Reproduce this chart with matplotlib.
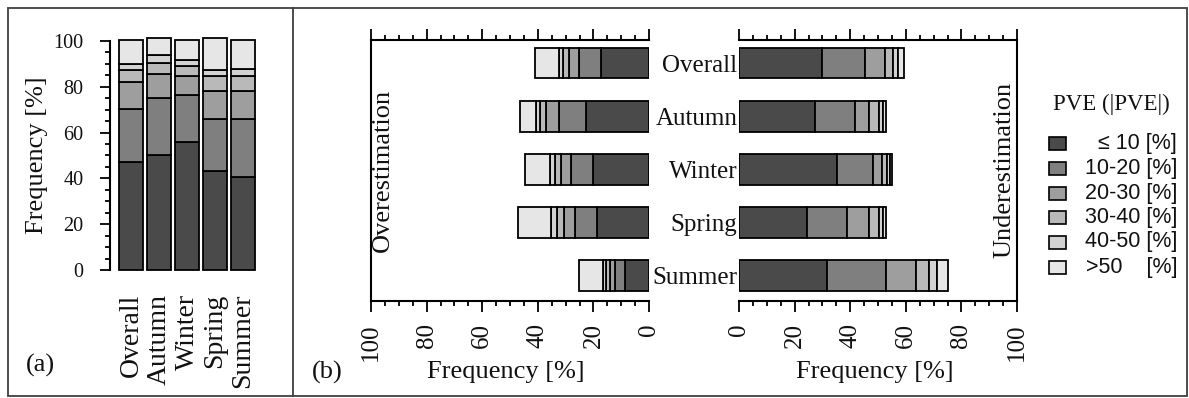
import matplotlib
matplotlib.use("Agg")
import matplotlib.pyplot as plt
from matplotlib.patches import Rectangle
from matplotlib.lines import Line2D
from matplotlib.ticker import MultipleLocator
import numpy as np

# ---------------- data ----------------
categories = ["Overall", "Autumn", "Winter", "Spring", "Summer"]
classes = ["\u2264 10", "10-20", "20-30", "30-40", "40-50", ">50"]

# panel (a): total frequency [%] per PVE class
total_le10 = [47.0, 50.4, 55.7, 43.2, 40.7]
total_10_20 = [23.5, 24.5, 20.8, 22.9, 25.4]
total_20_30 = [11.6, 10.9, 8.2, 12.1, 12.1]
total_30_40 = [5.1, 4.8, 4.4, 6.4, 6.4]
total_40_50 = [2.9, 3.2, 2.5, 2.6, 3.3]
total_gt50 = [10.2, 7.7, 8.7, 14.3, 12.4]

# panel (b): overestimation frequency [%]
over_le10 = [17.3, 22.5, 20.1, 18.7, 8.7]
over_10_20 = [7.8, 9.9, 8.1, 8.0, 3.6]
over_20_30 = [3.6, 4.7, 3.3, 4.0, 1.8]
over_30_40 = [2.4, 2.2, 2.2, 2.3, 1.5]
over_40_50 = [1.3, 1.5, 2.0, 2.1, 0.9]
over_gt50 = [8.6, 5.7, 8.8, 12.2, 8.8]

# panel (b): underestimation frequency [%]
under_le10 = [29.7, 27.3, 35.3, 24.6, 31.8]
under_10_20 = [15.7, 14.4, 12.9, 14.4, 20.9]
under_20_30 = [7.1, 5.2, 3.4, 7.9, 10.8]
under_30_40 = [3.0, 3.6, 1.6, 3.6, 4.9]
under_40_50 = [1.8, 1.4, 1.0, 1.4, 2.9]
under_gt50 = [2.0, 0.9, 0.7, 0.9, 3.9]

total = [total_le10, total_10_20, total_20_30, total_30_40, total_40_50, total_gt50]
over = [over_le10, over_10_20, over_20_30, over_30_40, over_40_50, over_gt50]
under = [under_le10, under_10_20, under_20_30, under_30_40, under_40_50, under_gt50]

colors = ['#4a4a4a', '#7f7f7f', '#9e9e9e', '#b9b9b9', '#d2d2d2', '#e6e6e6']

# ---------------- figure ----------------
W, H = 1189, 398
SERIF = ['Liberation Serif', 'DejaVu Serif']
SANS = ['Liberation Sans', 'DejaVu Sans']
plt.rcParams['font.family'] = SERIF
TXT = '#111111'

fig = plt.figure(figsize=(W / 100, H / 100), dpi=100)


def ax_px(l, t, r, b):
    return fig.add_axes([l / W, 1 - b / H, (r - l) / W, (b - t) / H])


def fx(px):
    return px / W


def fy(py):
    return 1 - py / H


EDGE_LW = 1.3
SPINE_LW = 1.5

# ---------------- panel (a) ----------------
axa = ax_px(110, 36.4, 257, 270)
xa = np.arange(len(categories))
bottom = np.zeros(len(categories))
for vals, c in zip(total, colors):
    axa.bar(xa, vals, 0.857, bottom=bottom, color=c, edgecolor='black',
            linewidth=EDGE_LW, clip_on=False)
    bottom += np.array(vals)
axa.set_xlim(-0.75, 4.5)
axa.set_ylim(0, 102)
for s in ['top', 'right', 'bottom']:
    axa.spines[s].set_visible(False)
axa.spines['left'].set_bounds(0, 100)
axa.spines['left'].set_linewidth(SPINE_LW)
axa.yaxis.set_major_locator(MultipleLocator(20))
axa.yaxis.set_minor_locator(MultipleLocator(5))
axa.tick_params(axis='y', which='major', length=7.2, width=1.3, labelsize=14.5,
                pad=12, labelcolor=TXT)
axa.tick_params(axis='y', which='minor', length=3.6, width=1.3)
axa.set_xticks(xa, categories, rotation=90, fontsize=20, color=TXT)
axa.tick_params(axis='x', length=0, pad=17)
axa.patch.set_visible(False)

fig.text(fx(37), fy(155), "Frequency [%]", rotation=90, ha='center', va='center',
         fontsize=19, color=TXT)
fig.text(fx(40), fy(365), "(a)", ha='center', va='center', fontsize=19, color=TXT)

# ---------------- panel (b) ----------------
yb = np.arange(len(categories))
BAR_H = 0.57


def setup_b(ax):
    ax.set_ylim(4.48, -0.44)
    ax.xaxis.set_major_locator(MultipleLocator(20))
    ax.xaxis.set_minor_locator(MultipleLocator(5))
    ax.tick_params(axis='x', which='both', top=True, bottom=True, direction='out',
                   labeltop=False, width=1.3)
    ax.tick_params(axis='x', which='major', length=8, labelsize=18, pad=8,
                   labelrotation=90, labelcolor=TXT)
    ax.tick_params(axis='x', which='minor', length=3.6)
    for s in ax.spines.values():
        s.set_linewidth(SPINE_LW)
    ax.patch.set_visible(False)


axo = ax_px(371, 40, 649, 301)
left = np.zeros(len(categories))
for vals, c in zip(over, colors):
    axo.barh(yb, vals, BAR_H, left=left, color=c, edgecolor='black', linewidth=EDGE_LW)
    left += np.array(vals)
axo.set_xlim(100, 0)
setup_b(axo)
axo.spines['right'].set_visible(False)
axo.set_yticks([])

axu = ax_px(739, 40, 1017, 301)
left = np.zeros(len(categories))
for vals, c in zip(under, colors):
    axu.barh(yb, vals, BAR_H, left=left, color=c, edgecolor='black', linewidth=EDGE_LW)
    left += np.array(vals)
axu.set_xlim(0, 100)
setup_b(axu)
axu.spines['left'].set_visible(False)
axu.set_yticks(yb, categories, fontsize=18, color=TXT)
axu.tick_params(axis='y', length=0, pad=1)

fig.text(fx(383), fy(170), "Overestimation", rotation=90, ha='center', va='center',
         fontsize=19, color=TXT)
fig.text(fx(1004), fy(170), "Underestimation", rotation=90, ha='center', va='center',
         fontsize=19, color=TXT)
fig.text(fx(506), fy(372), "Frequency [%]", ha='center', va='center', fontsize=19, color=TXT)
fig.text(fx(875), fy(372), "Frequency [%]", ha='center', va='center', fontsize=19, color=TXT)
fig.text(fx(327), fy(372), "(b)", ha='center', va='center', fontsize=19, color=TXT)

# ---------------- legend ----------------
fig.text(fx(1111), fy(104), "PVE (|PVE|)", ha='center', va='center', fontsize=16.5,
         color=TXT)
leg_y = [143, 168, 193, 217, 242, 267]
for lab, c, yc in zip(classes, colors, leg_y):
    fig.add_artist(Rectangle((fx(1049), fy(yc + 6.5)), 17 / W, 13 / H, facecolor=c,
                             edgecolor='black', linewidth=1.2, transform=fig.transFigure))
    pad = "    " if lab.startswith(">") else " "
    fig.text(fx(1177), fy(yc), lab + pad + "[%]", ha='right', va='center', fontsize=15.5,
             family=SANS, color=TXT)

# ---------------- frame ----------------
fig.add_artist(Rectangle((fx(8), fy(396)), (1187 - 8) / W, (396 - 8) / H, fill=False,
                         edgecolor='#404040', linewidth=1.3, transform=fig.transFigure))
fig.add_artist(Line2D([fx(293), fx(293)], [fy(8), fy(396)], color='#404040',
                      linewidth=1.3, transform=fig.transFigure))

fig.savefig("out.png", dpi=100)
